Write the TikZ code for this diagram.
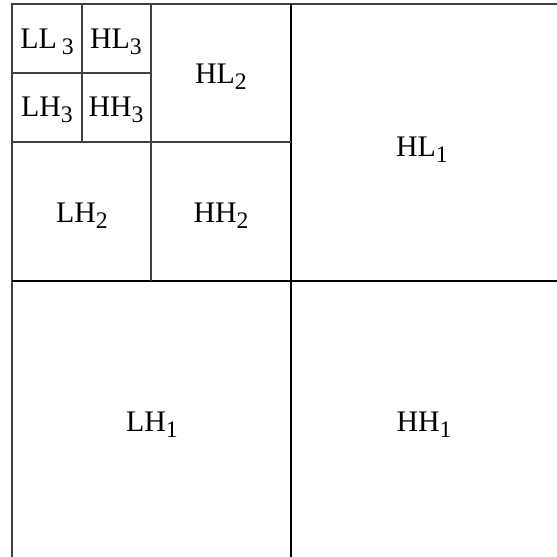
\documentclass[tikz,border=0pt]{standalone}
\usepackage{fontspec}
\setmainfont{Liberation Serif}
\newcommand{\lowsub}[1]{\raisebox{-0.45ex}{\fontsize{13.5}{14}\selectfont #1}}
\begin{document}
\begin{tikzpicture}[
        x=0.02cm, y=-0.02cm,
        every node/.style={font=\fontsize{17}{20}\selectfont},
        band/.style={inner sep=0pt},
        thinline/.style={draw=black!75, line width=0.6pt},
        midline/.style={draw=black, line width=1.0pt}
      ]
      \useasboundingbox (0,0) rectangle (557,557);
      % outer frame (left and top only)
      \draw[thinline] (12,557) -- (12,4) -- (557,4);
      % level 1
      \draw[midline] (291,4) -- (291,557);
      \draw[midline] (12,281) -- (557,281);
      % level 2
      \draw[thinline] (151,4) -- (151,281);
      \draw[thinline] (12,142) -- (291,142);
      % level 3
      \draw[thinline] (82,4) -- (82,142);
      \draw[thinline] (12,73) -- (151,73);
      % labels
      \node[band] (ll3) at (47,42) {LL\,\lowsub{3}};
      \node[band] (hl3) at (116,42) {HL\lowsub{3}};
      \node[band] (lh3) at (47,110) {LH\lowsub{3}};
      \node[band] (hh3) at (116,110) {HH\lowsub{3}};
      \node[band] (hl2) at (221,77) {HL\lowsub{2}};
      \node[band] (lh2) at (82,216) {LH\lowsub{2}};
      \node[band] (hh2) at (221,216) {HH\lowsub{2}};
      \node[band] (hl1) at (422,150) {HL\lowsub{1}};
      \node[band] (lh1) at (152,425) {LH\lowsub{1}};
      \node[band] (hh1) at (424,425) {HH\lowsub{1}};
    \end{tikzpicture}
\end{document}
